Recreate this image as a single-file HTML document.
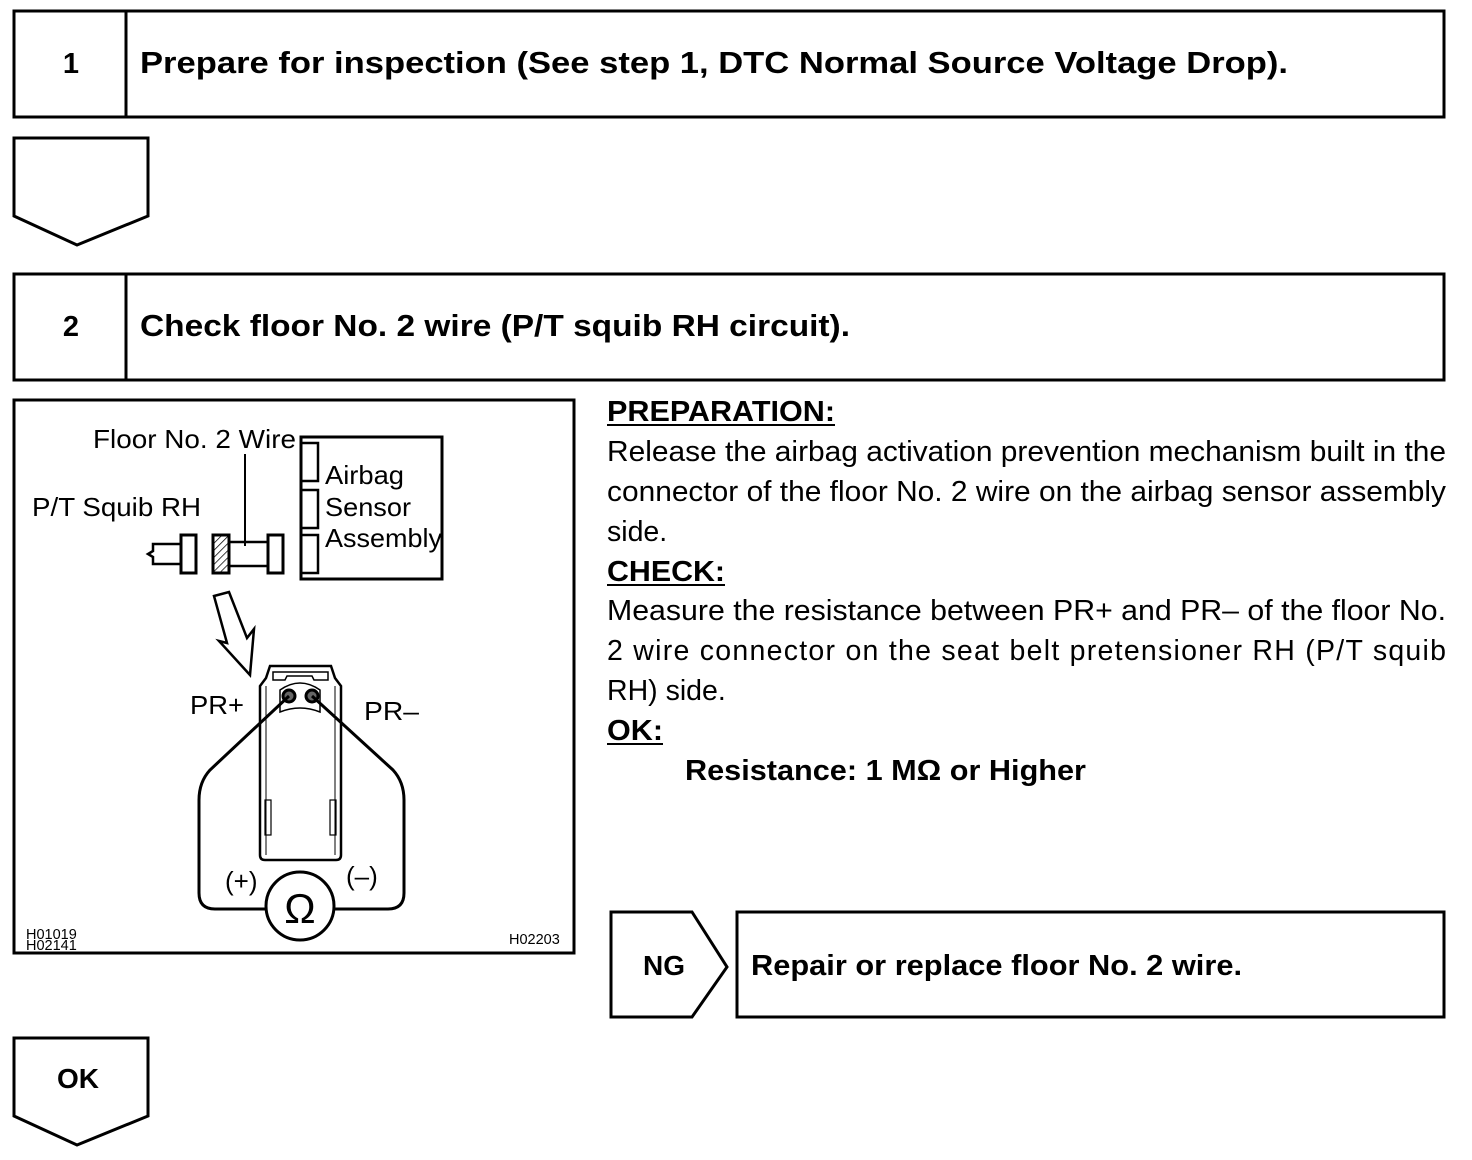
<!DOCTYPE html>
<html><head><meta charset="utf-8"><style>
html,body{margin:0;padding:0;background:#fff;}
svg{display:block;}
text{font-family:"Liberation Sans",Arial,sans-serif;fill:#000;}
.b{font-weight:bold;}
</style></head><body>
<svg width="1472" height="1160" viewBox="0 0 1472 1160" xmlns="http://www.w3.org/2000/svg">
<g fill="none" stroke="#000" stroke-width="3">
<rect x="14" y="11" width="1430" height="106"/>
<line x1="126" y1="11" x2="126" y2="117"/>
<polygon points="14,138 148,138 148,216 77,245 14,216"/>
<rect x="14" y="274" width="1430" height="106"/>
<line x1="126" y1="274" x2="126" y2="380"/>
<rect x="14" y="400" width="560" height="553"/>
<polygon points="611,912 692,912 727,967 692,1017 611,1017"/>
<rect x="737" y="912" width="707" height="105"/>
<polygon points="14,1038 148,1038 148,1116 77,1145 14,1116"/>
</g>
<text x="71" y="73" class="b" font-size="29" text-anchor="middle">1</text>
<text x="140" y="73" class="b" font-size="30.5" textLength="1148" lengthAdjust="spacingAndGlyphs">Prepare for inspection (See step 1, DTC Normal Source Voltage Drop).</text>
<text x="71" y="336" class="b" font-size="29" text-anchor="middle">2</text>
<text x="140" y="336" class="b" font-size="30.5" textLength="710" lengthAdjust="spacingAndGlyphs">Check floor No. 2 wire (P/T squib RH circuit).</text>
<text x="664" y="975" class="b" font-size="28" text-anchor="middle">NG</text>
<text x="751" y="975" class="b" font-size="29" textLength="491" lengthAdjust="spacingAndGlyphs">Repair or replace floor No. 2 wire.</text>
<text x="78" y="1088" class="b" font-size="28" text-anchor="middle">OK</text>

<g font-size="28.5">
<text x="607" y="421" class="b" textLength="228" lengthAdjust="spacingAndGlyphs">PREPARATION:</text>
<line x1="607" y1="425" x2="835" y2="425" stroke="#000" stroke-width="2"/>
<text x="607" y="461" textLength="839" lengthAdjust="spacingAndGlyphs">Release the airbag activation prevention mechanism built in the</text>
<text x="607" y="501" textLength="839" lengthAdjust="spacingAndGlyphs">connector of the floor No. 2 wire on the airbag sensor assembly</text>
<text x="607" y="541">side.</text>
<text x="607" y="581" class="b" textLength="118" lengthAdjust="spacingAndGlyphs">CHECK:</text>
<line x1="607" y1="585" x2="725" y2="585" stroke="#000" stroke-width="2"/>
<text x="607" y="620" textLength="839" lengthAdjust="spacingAndGlyphs">Measure the resistance between PR+ and PR– of the floor No.</text>
<text x="607" y="660" textLength="839" lengthAdjust="spacing">2 wire connector on the seat belt pretensioner RH (P/T squib</text>
<text x="607" y="700">RH) side.</text>
<text x="607" y="740" class="b" textLength="56" lengthAdjust="spacingAndGlyphs">OK:</text>
<line x1="607" y1="744" x2="663" y2="744" stroke="#000" stroke-width="2"/>
<text x="685" y="780" class="b" textLength="401" lengthAdjust="spacingAndGlyphs">Resistance: 1 MΩ or Higher</text>
</g>

<defs>
<pattern id="h" width="5" height="5" patternUnits="userSpaceOnUse" patternTransform="rotate(45)">
<line x1="0" y1="0" x2="0" y2="5" stroke="#000" stroke-width="1.5"/>
</pattern>
</defs>
<g font-size="26">
<text x="93" y="448" textLength="203" lengthAdjust="spacingAndGlyphs">Floor No. 2 Wire</text>
<text x="32" y="516" textLength="169" lengthAdjust="spacingAndGlyphs">P/T Squib RH</text>
<text x="325" y="484" textLength="79" lengthAdjust="spacingAndGlyphs">Airbag</text>
<text x="325" y="516" textLength="86" lengthAdjust="spacingAndGlyphs">Sensor</text>
<text x="325" y="547" textLength="117" lengthAdjust="spacingAndGlyphs">Assembly</text>
<text x="190" y="714" textLength="54" lengthAdjust="spacingAndGlyphs">PR+</text>
<text x="364" y="720" textLength="55" lengthAdjust="spacingAndGlyphs">PR–</text>
<text x="225" y="890">(+)</text>
<text x="346" y="885">(–)</text>
<text x="300" y="923" font-size="42" text-anchor="middle">Ω</text>
</g>
<g font-size="14.5">
<text x="26" y="939">H01019</text>
<text x="26" y="950">H02141</text>
<text x="509" y="944">H02203</text>
</g>
<g fill="none" stroke="#000" stroke-width="3">
<rect x="301" y="437" width="141" height="142"/>
<rect x="301" y="443" width="17" height="38" stroke-width="2.5"/>
<rect x="301" y="490" width="17" height="38" stroke-width="2.5"/>
<rect x="301" y="535" width="17" height="38" stroke-width="2.5"/>
<rect x="181" y="535" width="15" height="38"/>
<polygon points="181,544 153,544 153,551 148,554 153,557 153,564 181,564" stroke-width="2.5"/>
<rect x="213" y="535" width="16" height="38" fill="url(#h)"/>
<rect x="229" y="542" width="39" height="24" stroke-width="2.5"/>
<rect x="268" y="535" width="15" height="38"/>
<line x1="245" y1="454" x2="245" y2="546" stroke-width="2"/>
<polygon points="214,596 229,592 247,638 254,629 250,675 219,641 227,643" stroke-width="2.5"/>
<path d="M260,686 L260,855 Q260,860 265,860 L336,860 Q341,860 341,855 L341,686 L335,678 L331,666 L270,666 L266,678 Z" stroke-width="2.5"/>
<path d="M273,672 L328,672 L328,680 L314,680 L312,676 L287,676 L285,680 L273,680 Z" stroke-width="1.5"/>
<path d="M280,690 Q300,676 320,690 L320,712 Q300,704 280,712 Z" stroke-width="1.5"/>
<line x1="266" y1="686" x2="266" y2="855" stroke-width="1"/>
<line x1="335" y1="686" x2="335" y2="855" stroke-width="1"/>
<rect x="265" y="800" width="6" height="35" stroke-width="1.2"/>
<rect x="330" y="800" width="6" height="35" stroke-width="1.2"/>
<circle cx="289" cy="696" r="6" stroke-width="3" fill="#000" fill-opacity="0.6"/>
<circle cx="312" cy="696" r="6" stroke-width="3" fill="#000" fill-opacity="0.6"/>
<path d="M289,696 L210,770 Q199,782 199,800 L199,893 Q199,909 215,909 L266,909" stroke-width="3"/>
<path d="M312,696 L393,770 Q404,782 404,800 L404,893 Q404,909 388,909 L334,909" stroke-width="3"/>
<circle cx="300" cy="906" r="34" stroke-width="3"/>
</g>
</svg>
</body></html>
